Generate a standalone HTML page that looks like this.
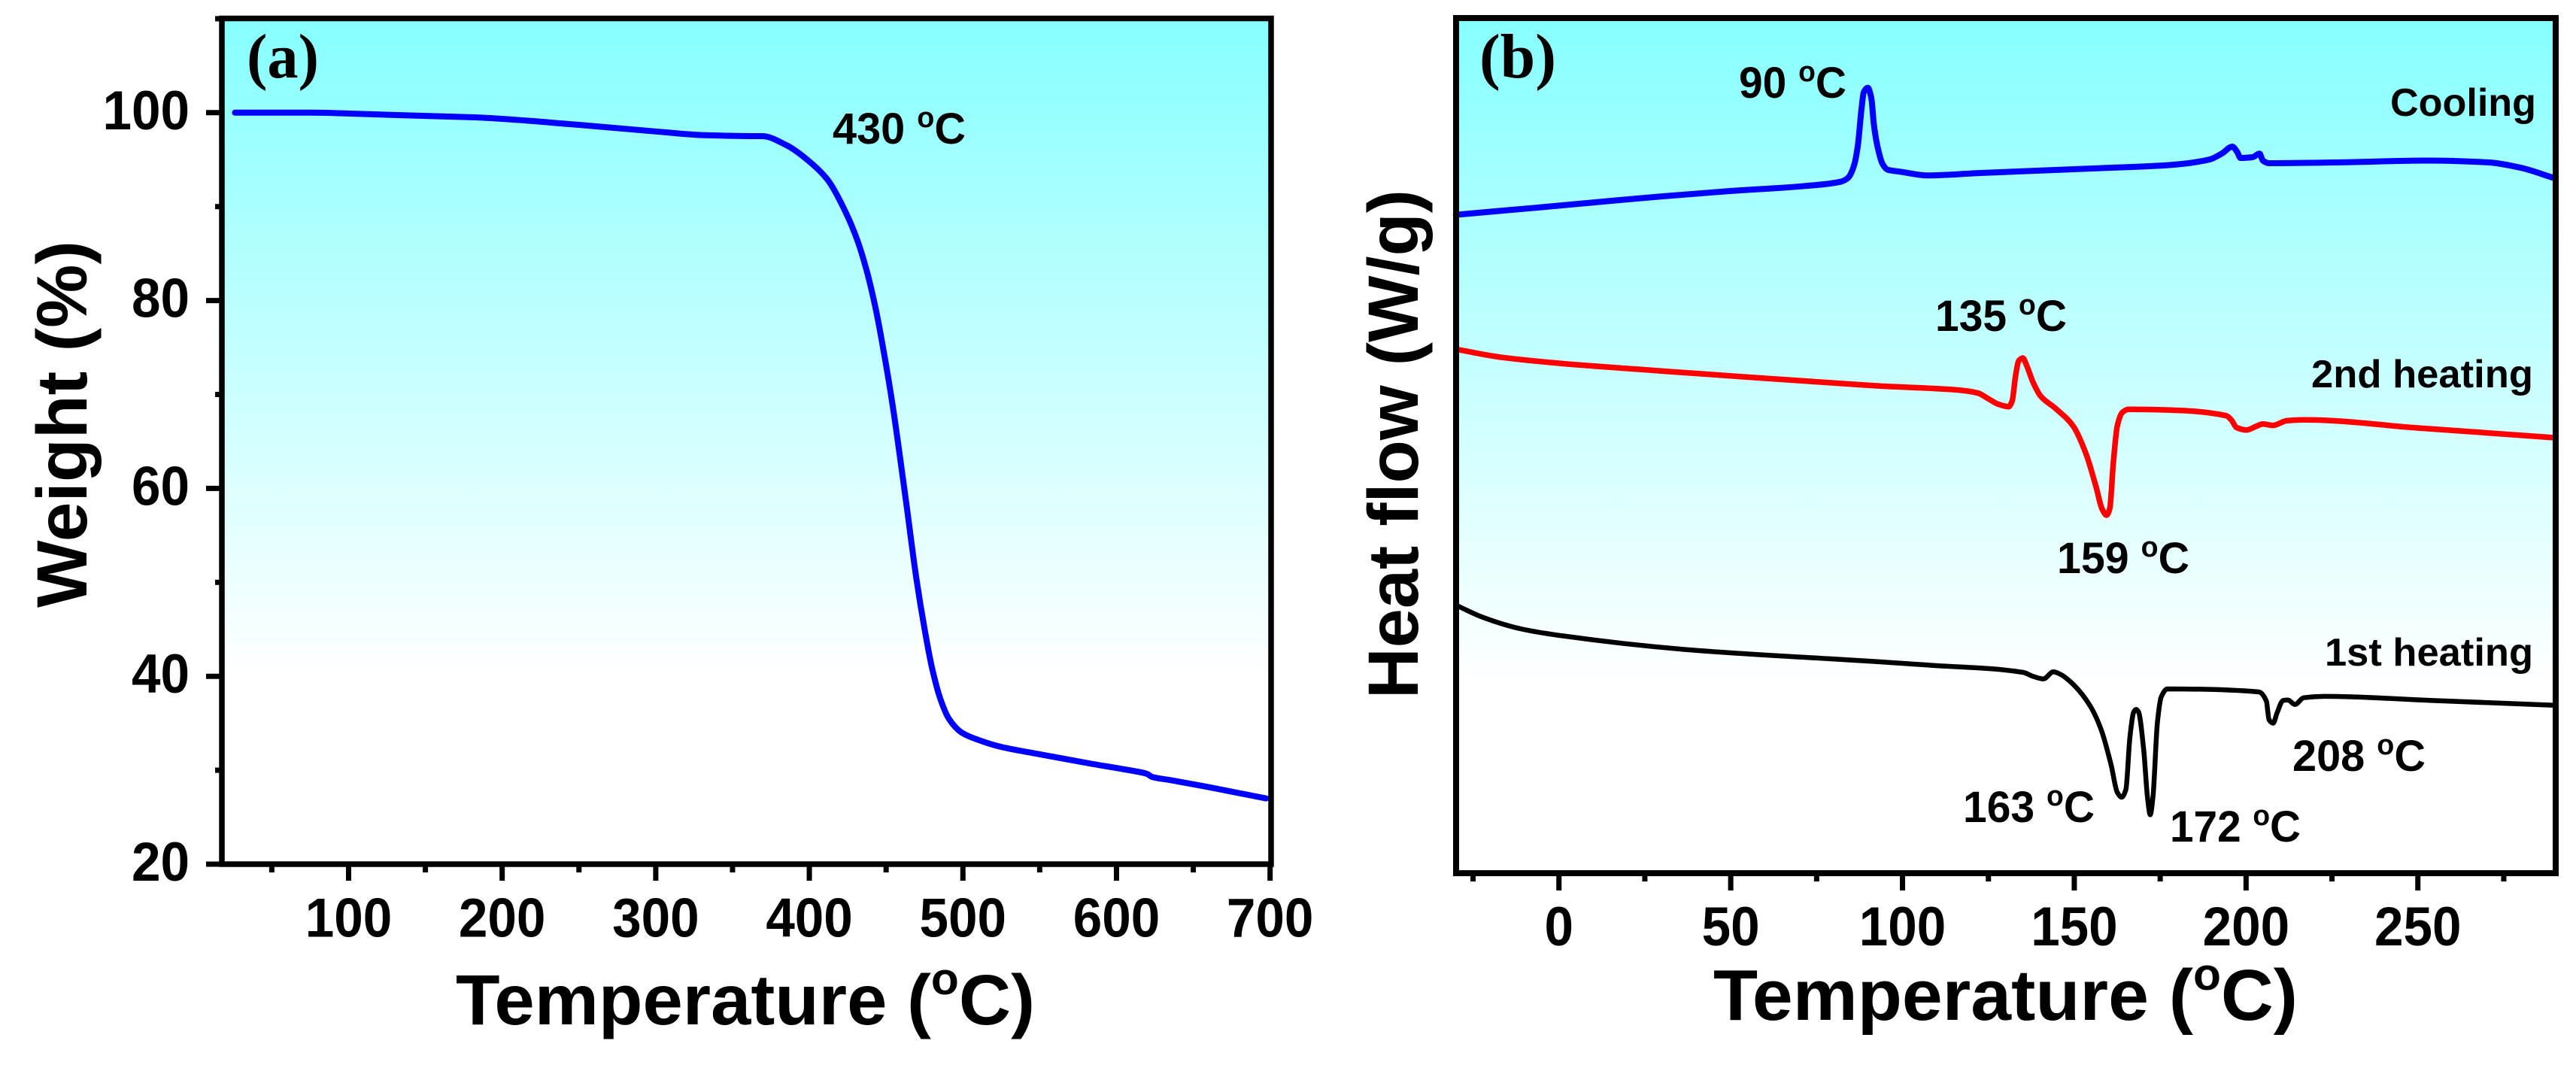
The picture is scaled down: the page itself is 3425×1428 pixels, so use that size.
<!DOCTYPE html>
<html lang="en">
<head>
<meta charset="utf-8">
<title>TGA and DSC curves</title>
<style>
html,body{margin:0;padding:0;background:#fff;}
svg{display:block;}
text{font-family:"Liberation Sans",Arial,sans-serif;font-weight:700;fill:#000;}
.serif{font-family:"Liberation Serif","Times New Roman",serif;}
</style>
</head>
<body>
<svg id="figure" xmlns="http://www.w3.org/2000/svg" width="3425" height="1428" viewBox="0 0 3425 1428">
  <defs>
    <linearGradient id="gradA" gradientUnits="userSpaceOnUse" x1="0" y1="28" x2="0" y2="900">
      <stop offset="0" stop-color="#87ffff"/><stop offset="1" stop-color="#ffffff"/>
    </linearGradient>
    <linearGradient id="gradB" gradientUnits="userSpaceOnUse" x1="0" y1="28" x2="0" y2="910">
      <stop offset="0" stop-color="#87ffff"/><stop offset="1" stop-color="#ffffff"/>
    </linearGradient>
  </defs>
  <rect x="0" y="0" width="3425" height="1428" fill="#ffffff"/>

  <g id="panelA">
    <rect x="295" y="24.5" width="1395" height="1124.5" fill="url(#gradA)"/>
    <g id="tgaSeries"></g>
    <rect x="295" y="24.5" width="1395" height="1124.5" fill="none" stroke="#000" stroke-width="7.5"/>
    <g id="tgaAxes"></g>
    <text class="serif" x="328" y="103" font-size="84" textLength="96" lengthAdjust="spacingAndGlyphs">(a)</text>
    <text x="1107" y="191" font-size="58" textLength="177" lengthAdjust="spacingAndGlyphs">430 <tspan font-size="38" dy="-22">o</tspan><tspan dy="22">C</tspan></text>
    <text x="606" y="1362" font-size="95" textLength="770" lengthAdjust="spacingAndGlyphs">Temperature (<tspan font-size="60" dy="-40">o</tspan><tspan dy="40">C)</tspan></text>
    <text transform="translate(115 808) rotate(-90)" x="0" y="0" font-size="95" textLength="488" lengthAdjust="spacingAndGlyphs">Weight (%)</text>
  </g>

  <g id="panelB">
    <rect x="1936" y="24" width="1462" height="1137" fill="url(#gradB)"/>
    <g id="dscSeries"></g>
    <rect x="1936" y="24" width="1462" height="1137" fill="none" stroke="#000" stroke-width="8"/>
    <g id="dscAxes"></g>
    <text class="serif" x="1967" y="103" font-size="84" textLength="102" lengthAdjust="spacingAndGlyphs">(b)</text>
    <text x="2312" y="130" font-size="58" textLength="143" lengthAdjust="spacingAndGlyphs">90 <tspan font-size="38" dy="-22">o</tspan><tspan dy="22">C</tspan></text>
    <text x="2573" y="440" font-size="58" textLength="175" lengthAdjust="spacingAndGlyphs">135 <tspan font-size="38" dy="-22">o</tspan><tspan dy="22">C</tspan></text>
    <text x="2735" y="762" font-size="58" textLength="176" lengthAdjust="spacingAndGlyphs">159 <tspan font-size="38" dy="-22">o</tspan><tspan dy="22">C</tspan></text>
    <text x="2610" y="1093" font-size="58" textLength="175" lengthAdjust="spacingAndGlyphs">163 <tspan font-size="38" dy="-22">o</tspan><tspan dy="22">C</tspan></text>
    <text x="2885" y="1119" font-size="58" textLength="174" lengthAdjust="spacingAndGlyphs">172 <tspan font-size="38" dy="-22">o</tspan><tspan dy="22">C</tspan></text>
    <text x="3048" y="1025" font-size="58" textLength="177" lengthAdjust="spacingAndGlyphs">208 <tspan font-size="38" dy="-22">o</tspan><tspan dy="22">C</tspan></text>
    <text x="3178" y="154" font-size="52" textLength="194" lengthAdjust="spacingAndGlyphs">Cooling</text>
    <text x="3073" y="515" font-size="52" textLength="295" lengthAdjust="spacingAndGlyphs">2nd heating</text>
    <text x="3091" y="885" font-size="52" textLength="277" lengthAdjust="spacingAndGlyphs">1st heating</text>
    <text x="2278" y="1356" font-size="96" textLength="777" lengthAdjust="spacingAndGlyphs">Temperature (<tspan font-size="60" dy="-40">o</tspan><tspan dy="40">C)</tspan></text>
    <text transform="translate(1885 929) rotate(-90)" x="0" y="0" font-size="95" textLength="677" lengthAdjust="spacingAndGlyphs">Heat flow (W/g)</text>
  </g>
</svg>

<script>
/* Panel (a): TGA */
const tgaTemperature = [26,76,101,140,182,250,300,332,362.6,369.2,385.5,398.6,411.7,423.1,431.3,437.8,443.5,448.4,454.1,459,464.6,469.7,475.3,479.6,485.1,490.8,499.3,510.5,524.5,550,585,610,620.1,622.9,635,660,697.4];
const tgaWeight = [100,100,99.9,99.7,99.5,98.7,98,97.6,97.5,97.5,96.5,95,92.9,89.6,86.4,82.9,78.9,74.6,69,63.4,56.6,50.4,44.8,41.1,37.7,35.5,34,33.2,32.5,31.7,30.65,29.95,29.6,29.3,28.95,28.2,27];
const tgaXTicks = [100,200,300,400,500,600,700];
const tgaXMinorTicks = [50,150,250,350,450,550,650];
const tgaYTicks = [20,40,60,80,100];
const tgaYMinorTicks = [30,50,70,90,110];

/* Panel (b): DSC, heat flow in arbitrary units */
const coolingTemperature = [-30,-5,18.9,49.8,71.6,81.9,84.1,85.9,87,88.1,88.7,89.9,90.9,91.7,92.8,94.2,95.7,99.4,107.3,122.7,159.2,177.6,189.4,193,196,197.4,198.4,201.9,203.9,204.9,206.7,228.6,252.3,270.1,279.6,289.5];
const coolingFlow = [875.4,885.5,895.5,907,913.7,919.3,924.3,941,967.7,1017.7,1038,1044.3,1031,994.3,964.3,943,935.3,932.7,927.7,931,937.7,941.5,949,957,966,959,951,952,956.7,947.5,944,945.2,947.5,945.2,938.3,924.5];
const secondHeatingTemperature = [-29.7,-16.6,30.8,60,84.2,93.5,115.4,122,124.9,127.8,130.9,131.9,132.9,133.8,135,136.2,138,140.2,144.6,149.7,153.4,156.3,158.1,159.4,160.3,161.4,162.5,164,165.8,176,194.2,195.7,197.2,200.1,203,204.9,207.8,212,217.3,250,289.1];
const secondHeatingFlow = [696.4,685.8,667.4,658,650.5,647.7,642.7,638.3,631,623.7,620.3,627.7,661,681,685,674.3,652.7,634.3,617.7,594.3,557.7,514.3,484.3,476,484.3,547.7,594.3,612.7,616.7,616,608.3,602.7,592.7,589.3,594.3,597.2,595.4,601.8,602.7,592,579.3];
const firstHeatingTemperature = [-29.4,-22.5,-10.7,1.2,36.8,78.3,93.5,108.1,135.1,138,141,143.9,146,149.7,154.8,157.8,160.7,162.5,163.8,165,166.2,167.3,168,168.7,170.2,171.3,172.1,172.9,174.2,175.3,177.1,203.7,205.9,206.7,207.9,209,210.8,212.2,214.2,216.8,222.7,255,289.1];
const firstHeatingFlow = [355.2,340.8,324.5,315.5,297.4,285.2,281,276.5,267,261.7,258.3,267.7,264.3,251,221,191,144.3,107.7,101,111,181,214.3,217.7,214.3,164.3,101,77.7,101,201,234.3,245,241,228.8,204,199.5,213,229.7,230.2,224.3,233.3,235.1,229.5,223.4];
const dscXTicks = [0,50,100,150,200,250];
const dscXMinorTicks = [-25,25,75,125,175,225,275];

function xTga(t){ return 295 + (t - 17.5) * 2.042; }
function yTga(w){ return 1149 - (w - 20) * 12.49; }
function xDsc(t){ return 1935.7 + (t + 30) * 4.568; }
function yDsc(v){ return 1161 - v; }

const NS = 'http://www.w3.org/2000/svg';

/* Shape-preserving cubic through the scaled points */
function smoothPath(px, py) {
  const n = px.length;
  const h = [], d = [], m = [];
  for (let i = 0; i < n - 1; i++) {
    h.push(px[i + 1] - px[i]);
    d.push((py[i + 1] - py[i]) / h[i]);
  }
  m[0] = d[0];
  m[n - 1] = d[n - 2];
  for (let i = 1; i < n - 1; i++) {
    if (d[i - 1] * d[i] <= 0) { m[i] = 0; continue; }
    const w1 = 2 * h[i] + h[i - 1], w2 = h[i] + 2 * h[i - 1];
    m[i] = (w1 + w2) / (w1 / d[i - 1] + w2 / d[i]);
  }
  let out = 'M' + px[0].toFixed(1) + ' ' + py[0].toFixed(1);
  for (let i = 0; i < n - 1; i++) {
    const c = h[i] / 3;
    out += 'C' + (px[i] + c).toFixed(1) + ' ' + (py[i] + m[i] * c).toFixed(1) + ' ' +
           (px[i + 1] - c).toFixed(1) + ' ' + (py[i + 1] - m[i + 1] * c).toFixed(1) + ' ' +
           px[i + 1].toFixed(1) + ' ' + py[i + 1].toFixed(1);
  }
  return out;
}
function makeCurve(parent, xs, ys, xFn, yFn, color, width) {
  const el = document.createElementNS(NS, 'path');
  el.setAttribute('d', smoothPath(xs.map(xFn), ys.map(yFn)));
  el.setAttribute('fill', 'none');
  el.setAttribute('stroke', color);
  el.setAttribute('stroke-width', width);
  el.setAttribute('stroke-linejoin', 'round');
  el.setAttribute('stroke-linecap', 'round');
  parent.appendChild(el);
  return el;
}
function makeLine(parent, x1, y1, x2, y2) {
  const el = document.createElementNS(NS, 'line');
  el.setAttribute('x1', x1);
  el.setAttribute('y1', y1);
  el.setAttribute('x2', x2);
  el.setAttribute('y2', y2);
  el.setAttribute('stroke', '#000');
  el.setAttribute('stroke-width', 7);
  parent.appendChild(el);
  return el;
}
function makeLabel(parent, x, y, anchor, str) {
  const el = document.createElementNS(NS, 'text');
  el.setAttribute('x', x);
  el.setAttribute('y', y);
  el.setAttribute('font-size', 73);
  el.setAttribute('text-anchor', anchor);
  el.setAttribute('textLength', str.length * 38.5);
  el.setAttribute('lengthAdjust', 'spacingAndGlyphs');
  el.textContent = str;
  parent.appendChild(el);
  return el;
}

const tgaSeries = document.getElementById('tgaSeries');
const tgaAxes = document.getElementById('tgaAxes');
const dscSeries = document.getElementById('dscSeries');
const dscAxes = document.getElementById('dscAxes');

const tgaCurve = makeCurve(tgaSeries, tgaTemperature, tgaWeight, xTga, yTga, '#0000ff', 8);



const coolingCurve = makeCurve(dscSeries, coolingTemperature, coolingFlow, xDsc, yDsc, '#0000ff', 8);



const secondHeatingCurve = makeCurve(dscSeries, secondHeatingTemperature, secondHeatingFlow, xDsc, yDsc, '#ff0000', 7.5);



const firstHeatingCurve = makeCurve(dscSeries, firstHeatingTemperature, firstHeatingFlow, xDsc, yDsc, '#000000', 6.5);



tgaXTicks.forEach(function (t) {
  const tick = makeLine(tgaAxes, xTga(t), 1149, xTga(t), 1171);
  
  
  const label = makeLabel(tgaAxes, xTga(t), 1245.5, 'middle', String(t));
  
  
});
tgaXMinorTicks.forEach(function (t) {
  const tick = makeLine(tgaAxes, xTga(t), 1149, xTga(t), 1160);
  
  
});
tgaYTicks.forEach(function (w) {
  const tick = makeLine(tgaAxes, 295, yTga(w), 274, yTga(w));
  
  
  const label = makeLabel(tgaAxes, 252, yTga(w) + 22, 'end', String(w));
  
  
});
tgaYMinorTicks.forEach(function (w) {
  const tick = makeLine(tgaAxes, 295, yTga(w), 286, yTga(w));
  
  
});
dscXTicks.forEach(function (t) {
  const tick = makeLine(dscAxes, xDsc(t), 1161, xDsc(t), 1184);
  
  
  const label = makeLabel(dscAxes, xDsc(t), 1257, 'middle', String(t));
  
  
});
dscXMinorTicks.forEach(function (t) {
  const tick = makeLine(dscAxes, xDsc(t), 1161, xDsc(t), 1172);
  
  
});
</script>
</body>
</html>
